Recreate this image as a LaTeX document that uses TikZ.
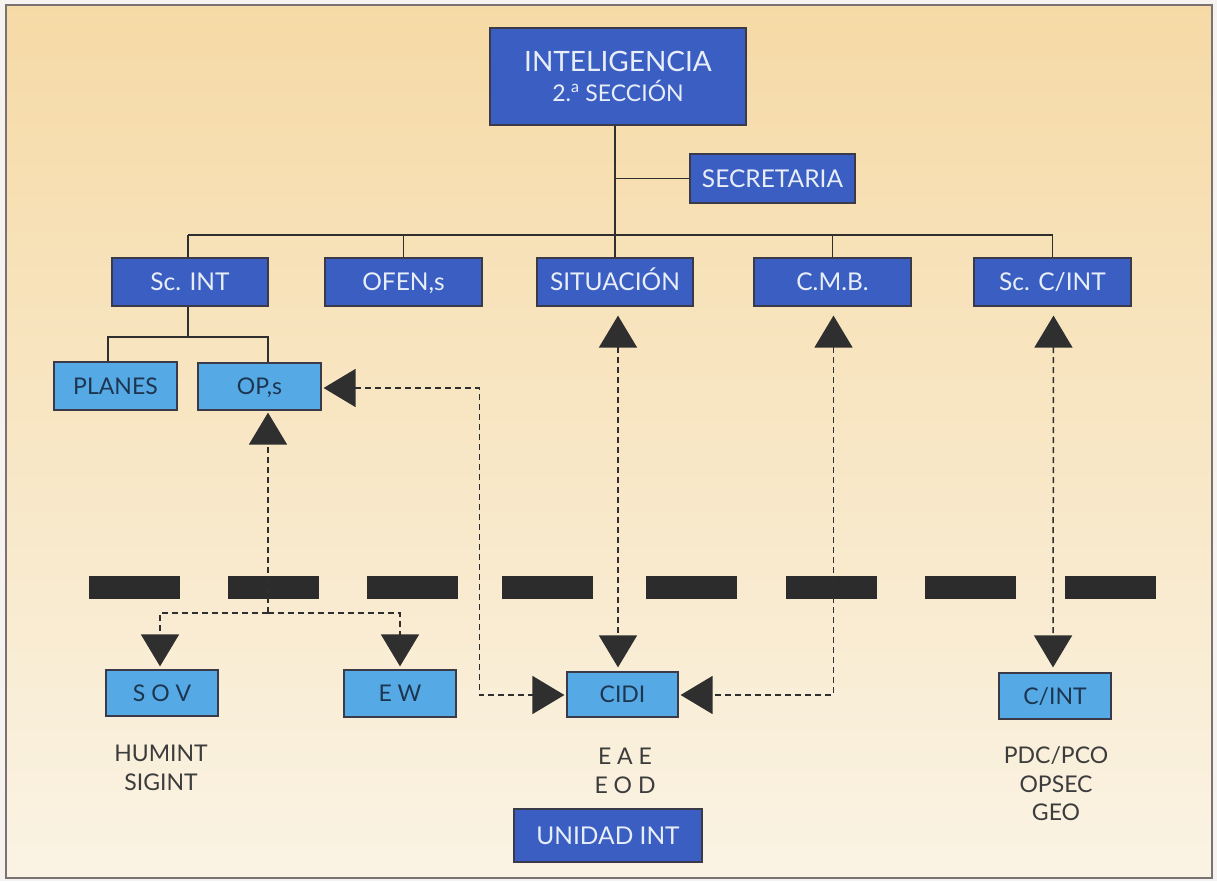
\documentclass[tikz,border=0pt]{standalone}
\usepackage{fontspec}
\setmainfont{Lato}
\usetikzlibrary{calc,arrows.meta}
\definecolor{pagecol}{HTML}{F6F2EF}
\definecolor{framecol}{HTML}{7A7272}
\definecolor{bgtop}{HTML}{F6DAA6}
\definecolor{bgmid}{HTML}{F8E8C8}
\definecolor{bgbot}{HTML}{FAF3E4}
\definecolor{dkblue}{HTML}{3B5EC3}
\definecolor{ltblue}{HTML}{55AAE6}
\definecolor{boxline}{HTML}{3A3A48}
\definecolor{dktext}{HTML}{E8EEF8}
\definecolor{lttext}{HTML}{1E3550}
\definecolor{lbltext}{HTML}{3C3C3C}
\definecolor{linecol}{HTML}{2F2F2F}
\definecolor{barcol}{HTML}{2C2C2C}
\tikzset{
  dkbox/.style={draw=boxline, line width=1.2pt, fill=dkblue, text=dktext, inner sep=0pt, align=center, font=\fontsize{24.5}{30}\selectfont},
  onel/.style={text height=17.5pt, text depth=0pt},
  ltbox/.style={draw=boxline, line width=1.2pt, fill=ltblue, text=lttext, inner sep=0pt, align=center, font=\fontsize{23}{28}\selectfont, text height=16.5pt, text depth=0pt},
  lbl/.style={text=lbltext, align=center, inner sep=0pt, font=\fontsize{23}{28.5}\selectfont},
  conn/.style={draw=linecol, line width=1.3pt},
  dconn/.style={draw=linecol, line width=1.5pt, dash pattern=on 6pt off 4pt},
  tipV/.style={-{Triangle[width=38pt,length=32pt]}},
  tipB/.style={{Triangle[width=38pt,length=32pt]}-{Triangle[width=38pt,length=32pt]}},
  bar/.style={fill=barcol}
}
\begin{document}
\begin{tikzpicture}[x=1pt,y=-1pt]
\useasboundingbox (0,0) rectangle (1217,881);
\fill[pagecol] (0,0) rectangle (1217,881);
\shade[top color=bgtop, middle color=bgmid, bottom color=bgbot] (6,5) rectangle (1212,878);
\draw[framecol, line width=1.3pt] (6,5) rectangle (1212,878);

% boxes
\node[dkbox, minimum width=256pt, minimum height=97pt] (intel) at (618,76.5)
  {\fontsize{28}{34}\selectfont INTELIGENCIA\\ \fontsize{23}{34}\selectfont 2.\textsuperscript{a} SECCIÓN};
\node[dkbox, onel, minimum width=165pt, minimum height=49pt] (secr) at (772.5,178.5) {SECRETARIA};
\node[dkbox, onel, minimum width=156pt, minimum height=48pt] (scint) at (190,282) {Sc. INT};
\node[dkbox, onel, minimum width=157pt, minimum height=48pt] (ofen) at (403.5,282) {OFEN,s};
\node[dkbox, onel, minimum width=156pt, minimum height=48pt] (sit) at (615,282) {SITUACIÓN};
\node[dkbox, onel, minimum width=157pt, minimum height=48pt] (cmb) at (832.5,282) {C.M.B.};
\node[dkbox, onel, minimum width=157pt, minimum height=48pt] (scc) at (1052.5,282) {Sc. C/INT};
\node[ltbox, minimum width=123pt, minimum height=48pt] (planes) at (115.5,386) {PLANES};
\node[ltbox, minimum width=123pt, minimum height=47pt] (ops) at (259.5,386.5) {OP,s};
\node[ltbox, minimum width=112pt, minimum height=46pt] (sov) at (162,693) {S O V};
\node[ltbox, minimum width=112pt, minimum height=47pt] (ew) at (400,693.5) {E W};
\node[ltbox, minimum width=111pt, minimum height=45pt] (cidi) at (622.5,694.5) {CIDI};
\node[ltbox, minimum width=112pt, minimum height=46pt] (cint) at (1055,696) {C/INT};
\node[dkbox, onel, minimum width=188pt, minimum height=53pt] (unidad) at (608,835.5) {UNIDAD INT};

% text labels
\node[lbl] (humint) at (161,768) {HUMINT\\SIGINT};
\node[lbl] (eae) at (625,771) {E A E\\E O D};
\node[lbl] (pdc) at (1056,784) {PDC/PCO\\OPSEC\\GEO};

% solid tree connectors
\coordinate (bus) at (0,235);
\coordinate (kid) at (0,337);
\coordinate (jy) at (0,613);
\draw[conn] (intel.south -| sit.north) -- (sit.north);
\draw[conn] (sit.north |- secr.west) -- (secr.west);
\draw[conn] ($(scint.north |- bus)+(-2,0)$) -- (scc.north |- bus);
\draw[conn] ($(scint.north)+(-2,0)$) -- ($(scint.north |- bus)+(-2,0)$);
\draw[conn] (ofen.north) -- (ofen.north |- bus);
\draw[conn] (cmb.north) -- (cmb.north |- bus);
\draw[conn] (scc.north) -- (scc.north |- bus);
\coordinate (plIn) at ($(planes.north)+(-7.5,0)$);
\coordinate (opIn) at ($(ops.north)+(8.5,0)$);
\draw[conn] ($(scint.south)+(-2,0)$) -- ($(scint.south |- kid)+(-2,0)$);
\draw[conn] (plIn) -- (plIn |- kid) -- (opIn |- kid) -- (opIn);

% arrow tips targets
\coordinate (opsUp) at ($(ops.south)+(8.5,2)$);
\coordinate (opsR) at ($(ops.east)+(2,1.5)$);
\coordinate (junc) at (opsUp |- jy);
\coordinate (sovT) at ($(sov.north)+(-2,-3)$);
\coordinate (ewT) at ($(ew.north)+(0,-3)$);
\coordinate (cidiL) at ($(cidi.west)+(-2,0.5)$);
\coordinate (cidiR) at ($(cidi.east)+(2,0.5)$);
\coordinate (cidiT) at ($(cidi.north)+(-4.5,-4)$);
\coordinate (sitT) at ($(sit.south)+(3,9)$);
\coordinate (cmbT) at ($(cmb.south)+(1,9)$);
\coordinate (sccT) at ($(scc.south)+(1,9)$);
\coordinate (cintT) at ($(cint.north)+(-2,-5)$);
\coordinate (bend) at ($(cidiL)+(-85,0)$);

% black bars
\foreach \xa in {89,228,367,502,646,786,925,1065}
  \fill[bar] (\xa,576) rectangle ++(91,23);

% dashed connectors
\draw[dconn, tipV] (junc) -- (opsUp);
\draw[dconn, tipV] (junc) -| (sovT);
\draw[dconn, tipV] (junc) -| (ewT);
\draw[dconn, tipB] (opsR) -| (bend) -- (cidiL);
\draw[dconn, tipB] (sitT) -- (cidiT);
\draw[dconn, tipB] (cmbT) |- (cidiR);
\draw[dconn, tipB] (sccT) -- (cintT);
\end{tikzpicture}
\end{document}
